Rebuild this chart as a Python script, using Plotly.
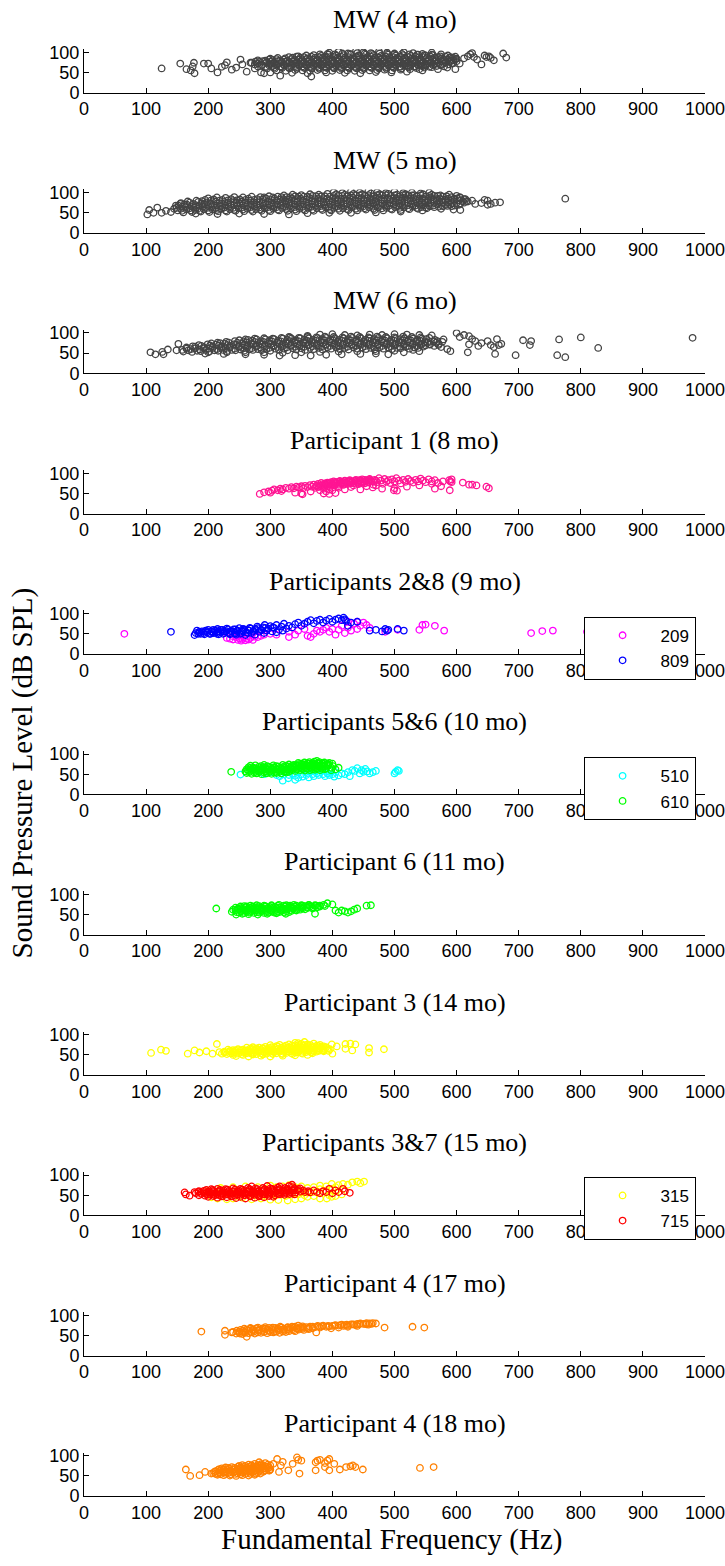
import plotly.graph_objects as go

# ---------------- data (Hz, dB SPL) ----------------
panel_titles = ["MW (4 mo)", "MW (5 mo)", "MW (6 mo)", "Participant 1 (8 mo)",
                "Participants 2&amp;8 (9 mo)", "Participants 5&amp;6 (10 mo)",
                "Participant 6 (11 mo)", "Participant 3 (14 mo)",
                "Participants 3&amp;7 (15 mo)", "Participant 4 (17 mo)",
                "Participant 4 (18 mo)"]
x_ticks = [0, 100, 200, 300, 400, 500, 600, 700, 800, 900, 1000]
y_ticks = [0, 50, 100]

mw4 = [(125,60),(155,72),(165,58),(172,55),(175,65),(177,74),(178,48),(193,72),(200,72),(205,60),
 (215,50),(222,64),(227,68),(230,75),(238,57),(245,62),(252,82),(255,70),(262,52),(268,74),(275,60),
 (285,50),(290,48),(316,42),(366,40),(598,58),(605,72),(612,85),(618,90),(622,95),(625,98),(628,88),
 (633,82),(640,70),(645,92),(648,88),(652,90),(655,86),(660,80),(675,97),(680,87),(590,88),(595,80),
 (395,99),(410,101),(425,97),(438,103),(450,100),(462,98),(475,102),(488,99),(500,97),(515,100),(530,98),(545,96),(560,99),(575,95),
 (345,90),(358,92),(370,93),(382,91),(394,94),(406,92),(418,93),(430,95),(442,92),(454,94),(466,93),(478,91),(490,94),(502,92),(514,93),(526,91),(538,94),(550,92),(562,93),(574,90),(586,92),(598,89),
 (300,84),(312,86),(324,85),(336,87),(348,86),(360,85),(372,87),(384,86),(396,88),(408,86),(420,87),(432,85),(444,88),(456,86),(468,87),(480,85),(492,88),(504,86),(516,87),(528,85),(540,88),(552,86),(564,87),(576,85),(588,86),(600,84),
 (280,80),(292,79),(304,81),(316,80),(328,79),(340,81),(352,80),(364,82),(376,80),(388,81),(400,79),(412,82),(424,80),(436,81),(448,79),(460,82),(472,80),(484,81),(496,79),(508,82),(520,80),(532,81),(544,80),(556,82),(568,80),(580,81),(592,79),
 (270,74),(282,76),(294,75),(306,74),(318,76),(330,75),(342,74),(354,76),(366,75),(378,74),(390,76),(402,75),(414,74),(426,76),(438,75),(450,74),(462,76),(474,75),(486,74),(498,76),(510,75),(522,74),(534,76),(546,75),(558,74),(570,76),(582,75),(594,73),
 (275,70),(287,69),(299,71),(311,70),(323,69),(335,71),(347,70),(359,69),(371,71),(383,70),(395,69),(407,71),(419,70),(431,69),(443,71),(455,70),(467,69),(479,71),(491,70),(503,69),(515,71),(527,70),(539,69),(551,71),(563,70),(575,68),(587,70),
 (280,65),(292,64),(304,66),(316,65),(328,64),(340,66),(352,65),(364,64),(376,66),(388,65),(400,64),(412,66),(424,65),(436,64),(448,66),(460,65),(472,64),(484,66),(496,65),(508,64),(520,66),(532,65),(544,66),(556,64),(568,66),(580,65),
 (295,60),(307,59),(319,61),(331,60),(343,59),(355,61),(367,60),(379,59),(391,61),(403,60),(415,59),(427,61),(439,60),(451,59),(463,61),(475,60),(487,59),(499,61),(511,60),(523,62),(535,61),(548,62),(560,63),
 (310,55),(325,54),(340,56),(352,55),(364,54),(376,56),(388,55),(400,54),(412,56),(424,55),(436,54),(448,56),(460,55),(472,56),(484,57),(496,55),(510,57),(525,58),(540,58),
 (300,50),(335,49),(360,48),(390,50),(420,49),(445,48),(470,51),(495,50),(520,52),(545,55),(570,58),(585,62)]
mw4_core = [(306,62),(318,63),(330,62),(342,63),(354,62),(366,63),(378,62),(390,63),(402,62),(414,63),(426,62),(438,63),(450,62),(462,63),(474,62),(486,63),(498,63),(510,64),(522,64),(534,65),(546,66),
 (286,67),(298,68),(310,67),(322,68),(334,67),(346,68),(358,67),(370,68),(382,67),(394,68),(406,67),(418,68),(430,67),(442,68),(454,67),(466,68),(478,67),(490,68),(502,67),(514,68),(526,67),(538,68),(550,67),(562,68),(574,69),
 (280,72),(292,73),(304,72),(316,73),(328,72),(340,73),(352,72),(364,73),(376,72),(388,73),(400,72),(412,73),(424,72),(436,73),(448,72),(460,73),(472,72),(484,73),(496,72),(508,73),(520,72),(532,73),(544,72),(556,73),(568,72),(580,73),(592,72),
 (276,77),(288,78),(300,77),(312,78),(324,77),(336,78),(348,77),(360,78),(372,77),(384,78),(396,77),(408,78),(420,77),(432,78),(444,77),(456,78),(468,77),(480,78),(492,77),(504,78),(516,77),(528,78),(540,77),(552,78),(564,77),(576,78),(588,77),(600,78),
 (298,82),(310,83),(322,82),(334,83),(346,82),(358,83),(370,82),(382,83),(394,82),(406,83),(418,82),(430,83),(442,82),(454,83),(466,82),(478,83),(490,82),(502,83),(514,82),(526,83),(538,82),(550,83),(562,82),(574,83),(586,82),(598,83),
 (330,88),(342,89),(354,88),(366,89),(378,88),(390,89),(402,88),(414,89),(426,88),(438,89),(450,88),(462,89),(474,88),(486,89),(498,88),(510,89),(522,88),(534,89),(546,88),(558,89),(570,88),(582,89),(594,87),
 (380,95),(392,96),(404,95),(416,97),(428,96),(440,98),(452,97),(464,96),(476,97),(488,96),(500,95),(512,96),(524,95),(536,94),(548,93),(560,94)]

mw5 = [(102,46),(105,57),(112,50),(118,63),(125,50),(132,55),(140,52),(145,60),(148,68),(155,72),
 (605,88),(612,84),(618,78),(625,80),(630,72),(640,74),(645,82),(650,80),(655,72),(662,75),(670,76),(650,70),(606,57),(775,85),
 (402,101),(416,99),(430,103),(444,100),(458,104),(472,101),(486,99),(500,102),(514,99),(528,100),(542,98),(556,100),
 (322,93),(336,95),(350,94),(364,96),(378,95),(392,97),(406,96),(420,95),(434,97),(448,96),(462,98),(476,96),(490,97),(504,95),(518,96),(532,94),(546,96),(560,95),(574,93),(588,95),(600,92),
 (200,86),(214,88),(228,87),(242,89),(256,88),(270,90),(284,89),(298,91),(312,90),(326,89),(340,91),(354,90),(368,92),(382,91),(396,90),(410,92),(424,91),(438,93),(452,92),(466,91),(480,93),(494,92),(508,90),(522,92),(536,91),(550,90),(564,92),(578,90),(592,89),(606,88),
 (167,78),(181,80),(195,82),(209,83),(223,82),(237,84),(251,83),(265,85),(279,84),(293,86),(307,85),(321,84),(335,86),(349,85),(363,87),(377,86),(391,85),(405,87),(419,86),(433,88),(447,87),(461,86),(475,88),(489,87),(503,86),(517,88),(531,87),(545,86),(559,88),(573,86),(587,85),(601,86),(614,84),
 (156,74),(170,75),(184,77),(198,76),(212,78),(226,77),(240,79),(254,78),(268,80),(282,79),(296,78),(310,80),(324,79),(338,81),(352,80),(366,79),(380,81),(394,80),(408,82),(422,81),(436,80),(450,82),(464,81),(478,83),(492,82),(506,81),(520,83),(534,82),(548,81),(562,83),(576,82),(590,80),(604,81),(616,79),
 (152,68),(166,70),(180,69),(194,71),(208,70),(222,72),(236,71),(250,73),(264,72),(278,71),(292,73),(306,72),(320,74),(334,73),(348,72),(362,74),(376,73),(390,75),(404,74),(418,73),(432,75),(446,74),(460,76),(474,75),(488,74),(502,76),(516,75),(530,77),(544,76),(558,75),(572,77),(586,76),(600,74),(612,75),
 (149,62),(163,64),(177,63),(191,65),(205,64),(219,66),(233,65),(247,67),(261,66),(275,65),(289,67),(303,66),(317,68),(331,67),(345,66),(359,68),(373,67),(387,69),(401,68),(415,67),(429,69),(443,68),(457,70),(471,69),(485,68),(499,70),(513,69),(527,71),(541,70),(555,69),(569,71),(583,70),(597,68),
 (151,56),(165,58),(179,57),(193,59),(207,58),(221,60),(235,59),(249,61),(263,60),(277,59),(291,61),(305,60),(319,62),(333,61),(347,60),(361,62),(375,61),(389,63),(403,62),(417,61),(431,63),(445,62),(459,64),(473,63),(487,62),(501,64),(515,63),(529,65),(543,64),(557,66),(571,65),(585,67),
 (160,51),(174,52),(188,53),(202,52),(216,54),(230,53),(244,55),(258,54),(272,53),(286,55),(300,54),(314,56),(328,55),(342,54),(356,56),(370,55),(384,57),(398,56),(412,55),(426,57),(440,56),(454,58),(468,57),(482,56),(496,58),(510,57),(524,59),(538,60),(552,61),
 (180,48),(215,47),(250,48),(290,47),(330,46),(360,49),(395,50),(430,50),(470,51),(510,53),(545,56),(575,60),(595,58)]
mw5_core = [(158,55),(172,56),(186,55),(200,56),(214,57),(228,56),(242,57),(256,58),(270,57),(284,58),(298,57),(312,58),(326,59),(340,58),(354,59),(368,58),(382,60),(396,59),(410,60),(424,59),(438,60),(452,61),(466,60),(480,61),(494,60),(508,62),(522,61),(536,62),(550,63),(564,64),(578,66),(592,66),
 (156,60),(170,61),(184,61),(198,62),(212,62),(226,63),(240,62),(254,63),(268,64),(282,63),(296,64),(310,64),(324,65),(338,64),(352,65),(366,65),(380,66),(394,65),(408,66),(422,66),(436,67),(450,66),(464,67),(478,67),(492,68),(506,67),(520,68),(534,68),(548,69),(562,68),(576,69),(590,70),(604,70),
 (158,65),(172,66),(186,67),(200,67),(214,68),(228,68),(242,69),(256,69),(270,70),(284,69),(298,70),(312,70),(326,71),(340,70),(354,71),(368,71),(382,72),(396,71),(410,72),(424,72),(438,73),(452,72),(466,73),(480,73),(494,74),(508,73),(522,74),(536,74),(550,75),(564,74),(578,75),(592,74),(606,73),
 (162,71),(176,72),(190,73),(204,73),(218,74),(232,75),(246,75),(260,76),(274,76),(288,77),(302,76),(316,77),(330,77),(344,78),(358,77),(372,78),(386,78),(400,79),(414,78),(428,79),(442,79),(456,80),(470,79),(484,80),(498,80),(512,81),(526,80),(540,81),(554,80),(568,80),(582,79),(596,79),(610,78),
 (190,79),(204,80),(218,80),(232,81),(246,81),(260,82),(274,82),(288,83),(302,82),(316,83),(330,83),(344,84),(358,83),(372,84),(386,84),(400,85),(414,84),(428,85),(442,85),(456,86),(470,85),(484,86),(498,85),(512,86),(526,85),(540,85),(554,84),(568,84),(582,83),(596,84),
 (290,88),(304,88),(318,89),(332,89),(346,90),(360,90),(374,91),(388,91),(402,92),(416,92),(430,93),(444,93),(458,94),(472,94),(486,94),(500,93),(514,94),(528,93),(542,93),(556,92),(570,92),(584,91)]

mw6 = [(107,52),(115,47),(126,53),(135,59),(152,73),(149,57),(128,47),
 (600,100),(605,90),(612,95),(620,92),(625,85),(630,80),(640,75),(650,80),(655,70),(665,85),(660,65),(668,70),(672,73),(618,52),(662,48),(620,72),(635,68),(585,60),(590,55),(575,65),
 (695,45),(707,82),(720,80),(718,70),(762,45),(765,84),(775,40),(800,89),(828,63),(980,88),
 (330,90),(360,93),(380,96),(400,97),(420,95),(440,94),(460,96),(480,95),(500,97),(520,96),(540,95),(560,94),
 (260,84),(275,86),(290,87),(304,86),(318,88),(332,89),(346,88),(360,90),(374,89),(388,91),(402,90),(416,89),(430,91),(444,90),(458,89),(472,91),(486,90),(500,89),(514,91),(528,90),(542,89),(556,88),
 (215,76),(229,78),(243,80),(257,79),(271,81),(285,80),(299,82),(313,81),(327,83),(341,82),(355,84),(369,83),(383,85),(397,84),(411,83),(425,85),(439,84),(453,83),(467,85),(481,84),(495,83),(509,85),(523,84),(537,83),(551,85),(565,83),(579,84),
 (185,70),(199,72),(213,71),(227,73),(241,72),(255,74),(269,73),(283,75),(297,74),(311,76),(325,75),(339,77),(353,76),(367,78),(381,77),(395,79),(409,78),(423,77),(437,79),(451,78),(465,77),(479,79),(493,78),(507,77),(521,79),(535,78),(549,77),(563,79),(577,78),
 (165,64),(179,66),(193,65),(207,67),(221,66),(235,68),(249,67),(263,69),(277,68),(291,70),(305,69),(319,71),(333,70),(347,72),(361,71),(375,73),(389,72),(403,74),(417,73),(431,72),(445,74),(459,73),(473,72),(487,74),(501,73),(515,72),(529,74),(543,73),(557,72),(571,73),
 (158,58),(172,60),(186,59),(200,61),(214,60),(228,62),(242,61),(256,63),(270,62),(284,64),(298,63),(312,65),(326,64),(340,66),(354,65),(368,67),(382,66),(396,68),(410,67),(424,66),(438,68),(452,67),(466,66),(480,68),(494,67),(508,66),(522,68),(536,67),(550,69),(564,68),
 (160,54),(174,53),(188,55),(202,54),(216,56),(230,55),(244,57),(258,56),(272,58),(286,57),(300,56),(314,58),(328,57),(342,59),(356,58),(370,60),(384,59),(398,61),(412,60),(426,59),(440,61),(454,60),(468,59),(482,61),(496,60),(510,62),(524,61),(538,63),
 (195,49),(225,48),(260,47),(290,46),(315,44),(340,45),(365,44),(390,46),(415,47),(445,48),(470,49),(490,47),(515,52),(540,55)]
mw6_core = [(168,57),(182,56),(196,58),(210,57),(224,58),(238,58),(252,59),(266,59),(280,60),(294,60),(308,61),(322,61),(336,62),(350,62),(364,63),(378,63),(392,64),(406,64),(420,63),(434,64),(448,64),(462,63),(476,64),(490,64),(504,63),(518,65),(532,64),(546,66),
 (165,61),(179,62),(193,62),(207,63),(221,63),(235,64),(249,65),(263,65),(277,66),(291,66),(305,67),(319,67),(333,68),(347,68),(361,69),(375,69),(389,70),(403,70),(417,70),(431,70),(445,71),(459,70),(473,70),(487,71),(501,70),(515,70),(529,71),(543,70),(557,71),(571,70),
 (175,67),(189,68),(203,69),(217,69),(231,70),(245,71),(259,71),(273,72),(287,72),(301,73),(315,73),(329,74),(343,74),(357,75),(371,75),(385,76),(399,76),(413,75),(427,76),(441,76),(455,75),(469,76),(483,76),(497,75),(511,76),(525,76),(539,75),(553,76),(567,76),
 (205,74),(219,75),(233,76),(247,76),(261,77),(275,78),(289,78),(303,79),(317,79),(331,80),(345,80),(359,81),(373,81),(387,82),(401,82),(415,81),(429,82),(443,81),(457,81),(471,82),(485,81),(499,81),(513,82),(527,81),(541,81),(555,80),(569,80),
 (250,82),(264,83),(278,84),(292,84),(306,85),(320,86),(334,86),(348,87),(362,87),(376,88),(390,88),(404,87),(418,87),(432,88),(446,87),(460,87),(474,88),(488,87),(502,87),(516,87),(530,86),(544,86),
 (200,52),(230,52),(260,52),(290,52),(320,51),(350,52),(380,53),(410,54),(440,55),(470,55),(500,56),(530,58)]

p1_8mo = [(283,49),(290,53),(297,55),(303,57),(306,60),(312,58),(316,62),(320,60),(325,64),(330,62),(334,66),(338,63),
 (342,67),(346,65),(350,68),(353,63),(356,69),(360,66),(364,71),(367,67),(370,72),(372,64),(375,70),(377,74),(380,68),
 (382,76),(384,71),(386,62),(388,75),(390,70),(392,77),(394,73),(396,66),(398,78),(400,74),(402,80),(404,71),(406,76),
 (408,79),(410,68),(412,81),(414,75),(416,78),(418,72),(420,82),(422,77),(424,74),(426,80),(428,83),(430,76),(432,79),
 (434,70),(436,81),(438,84),(440,77),(442,73),(444,82),(446,78),(448,85),(450,80),(452,75),(455,83),(458,77),(460,86),
 (463,80),(466,72),(468,84),(472,78),(475,88),(478,82),(481,74),(484,86),(487,79),(490,83),(493,76),(496,85),(500,80),
 (503,88),(507,82),(510,75),(514,84),(518,79),(522,86),(526,81),(530,77),(534,84),(538,80),(542,87),(546,82),(550,78),
 (555,85),(560,80),(565,83),(570,76),(578,80),(588,83),(590,80),(592,78),(589,58),(592,85),(610,77),(620,72),(625,72),
 (632,70),(648,67),(652,63),(340,52),(350,50),(352,48),(365,55),(390,55),(400,58),(420,60),(445,60),(465,65),(480,62),
 (500,63),(520,67),(540,70),(560,74),(575,68),(300,52),(318,56),(380,58),(410,64),(395,60),(430,66),(455,68),(470,70),
 (386,50),(395,49),(405,51),(499,58),(504,57),(565,62),
 (374,68),(382,70),(390,72),(398,72),(406,74),(414,76),(422,76),(430,78),(438,79),(446,80),(454,80),(462,82),(470,82),
 (378,66),(386,67),(394,68),(402,70),(410,72),(418,72),(426,74),(434,75),(442,76),(450,77),(458,78),(466,79),
 (388,73),(396,76),(404,78),(412,79),(420,80),(428,81),(436,82),(444,83),(452,84),(460,84)]

p209 = [(65,50),(230,40),(235,38),(240,36),(245,42),(248,35),(250,39),(253,33),(255,37),(258,41),(260,34),(262,38),
 (265,36),(268,40),(272,35),(275,43),(250,45),(240,44),(280,42),(285,45),(290,48),(300,50),(310,48),(330,42),(330,55),
 (340,48),(345,58),(355,62),(360,45),(365,42),(370,50),(375,58),(380,55),(385,60),(390,65),(395,55),(400,62),(405,48),
 (410,60),(415,70),(420,52),(425,65),(425,80),(430,58),(435,75),(440,62),(440,80),(445,70),(450,78),(455,72),(460,65),
 (485,55),(505,60),(540,60),(545,72),(550,73),(565,70),(580,58),(720,52),(738,57),(755,58),(810,55)]

p809 = [(140,55),(178,47),(180,52),(182,58),(185,54),(188,50),(190,56),(193,52),(196,58),(199,54),(202,50),(205,56),
 (208,52),(211,58),(214,54),(217,49),(220,55),(223,60),(226,52),(229,57),(232,53),(235,49),(238,56),(241,61),(244,53),
 (247,58),(250,64),(252,50),(255,56),(258,61),(261,54),(264,59),(267,65),(270,52),(273,57),(276,62),(279,68),(282,55),
 (285,60),(288,66),(291,72),(294,58),(297,63),(300,69),(303,56),(306,65),(310,72),(314,60),(318,68),(322,75),(326,63),
 (330,70),(335,66),(340,74),(345,78),(350,70),(355,75),(360,80),(365,84),(370,76),(375,82),(380,85),(385,78),(390,83),
 (395,87),(400,80),(405,85),(410,88),(415,84),(418,90),(420,86),(422,82),(425,70),(430,78),(440,80),(460,58),(470,60),
 (480,56),(485,62),(488,58),(490,60),(505,62),(515,58),(215,62),(230,63),(245,48),(260,47),(200,60),(275,48),(290,52),
 (320,58),(310,54),
 (184,50),(194,49),(204,50),(214,50),(224,50),(234,51),(244,51),(254,52),(264,52),
 (186,55),(196,55),(206,55),(216,56),(226,56),(236,57),(246,57),(256,58),(266,58),(276,59),(286,59),
 (208,60),(220,60),(232,61),(244,61),(256,62),(268,63),(280,64),(292,65),(304,66)]

p510 = [(252,49),(320,34),(340,36),(345,41),(329,40),(330,48),(335,52),(340,46),(345,55),(350,50),(352,44),(355,58),
 (358,48),(360,53),(362,42),(365,56),(368,50),(370,45),(372,58),(375,52),(378,48),(380,55),(382,60),(385,50),(388,45),
 (390,56),(392,52),(395,48),(398,58),(400,50),(403,44),(405,55),(410,47),(415,52),(420,50),(425,55),(428,45),(432,60),
 (436,58),(440,65),(444,52),(447,60),(450,56),(453,63),(456,57),(460,52),(465,55),(470,58),(500,52),(502,56),(505,60),
 (507,58),(310,48),(300,55),(290,50),(315,45),(325,55)]

p610 = [(237,56),(398,60),(405,62),(410,66),(400,76),
 (262,53),(270,51),(278,52),(286,50),(294,52),(302,51),(310,53),(318,52),(326,54),
 (260,57),(268,58),(276,56),(284,58),(292,57),(300,58),(308,56),(316,58),(324,57),(332,59),(340,58),(348,60),(356,59),(364,60),(372,61),(380,60),(388,62),
 (262,62),(270,63),(278,61),(286,63),(294,62),(302,63),(310,62),(318,64),(326,63),(334,64),(342,63),(350,65),(358,64),(366,66),(374,65),(382,66),(390,65),(398,66),
 (265,67),(273,66),(281,68),(289,67),(297,68),(305,67),(313,69),(321,68),(329,69),(337,68),(345,70),(353,69),(361,71),(369,70),(377,71),(385,70),(393,72),(401,70),
 (268,71),(276,72),(290,73),(305,72),(320,73),(330,74),(338,73),(346,75),(354,74),(362,76),(370,75),(378,76),(386,75),(394,74),
 (345,78),(355,79),(363,80),(371,81),(379,80),(387,79),(395,78),(375,83),
 (266,55),(274,54),(282,55),(290,54),(298,55),(306,54),(314,55),(322,56),(330,56),
 (264,60),(272,60),(280,60),(288,60),(296,61),(304,60),(312,61),(320,61),(328,62),(336,61),(344,62),(352,62),(360,63),(368,62),(376,63),(384,63),
 (268,65),(276,64),(284,65),(292,65),(300,66),(308,65),(316,66),(324,66),(332,67),(340,66),(348,67),(356,67),(364,68),(372,68),(380,68),(388,69),
 (285,70),(295,70),(310,70),(325,71),(335,71),(342,72),(350,72),(358,73),(366,73),(374,73),(382,73),(390,73),
 (350,76),(360,77),(368,78),(376,78),(384,77),(392,76)]

p6_11mo = [(213,65),(380,72),(392,78),(400,75),(405,60),(410,55),(415,60),(420,58),(425,55),(430,58),(435,62),(440,65),
 (455,72),(462,73),(372,52),
 (245,50),(255,52),(265,51),(280,50),(295,52),(310,53),(325,52),
 (238,57),(246,56),(254,58),(262,57),(270,58),(278,56),(286,58),(294,57),(302,58),(310,57),(318,59),(326,58),(334,59),(342,60),
 (240,62),(248,63),(256,61),(264,63),(272,62),(280,63),(288,62),(296,64),(304,63),(312,64),(320,63),(328,64),(336,65),(344,64),(352,65),(360,66),(368,65),
 (244,67),(252,66),(260,68),(268,67),(276,68),(284,67),(292,69),(300,68),(308,69),(316,68),(324,70),(332,69),(340,70),(348,69),(356,71),(364,70),(372,71),(380,70),(388,71),
 (258,71),(268,72),(278,73),(290,72),(302,73),(314,74),(326,73),(338,74),(350,73),(362,74),(374,72),(386,74),
 (250,55),(258,54),(266,55),(274,54),(282,55),(290,54),(298,55),(306,55),(314,56),(322,55),(330,56),
 (244,60),(252,59),(260,60),(268,59),(276,60),(284,60),(292,61),(300,60),(308,61),(316,61),(324,62),(332,61),(340,62),(348,62),(356,63),
 (248,65),(256,64),(264,65),(272,65),(280,66),(288,65),(296,66),(304,66),(312,67),(320,66),(328,67),(336,67),(344,67),(352,68),(360,68),(368,68),(376,68),
 (252,70),(262,70),(272,70),(282,71),(292,71),(302,71),(312,72),(322,72),(332,72),(342,72),(352,72),(362,73),(372,73)]

p3_14mo = [(108,55),(124,63),(132,60),(167,53),(178,61),(186,56),(197,59),(207,53),(214,77),
 (399,76),(407,71),(421,77),(429,78),(437,76),(432,61),(459,67),(459,56),(483,64),(400,53),(421,65),
 (245,47),(265,46),(285,48),(300,46),(320,48),(340,49),(360,50),
 (222,53),(230,52),(238,54),(246,53),(254,52),(262,54),(270,53),(278,52),(286,54),(294,53),(302,55),(310,54),(318,53),(326,55),(334,54),(342,56),(350,55),(358,57),(366,56),(374,58),
 (218,57),(226,58),(234,59),(242,58),(250,57),(258,59),(266,58),(274,60),(282,59),(290,58),(298,60),(306,59),(314,61),(322,60),(330,59),(338,61),(346,60),(354,62),(362,61),(370,60),(378,62),(386,61),(394,60),
 (232,63),(240,62),(248,64),(256,63),(264,62),(272,64),(280,63),(288,65),(296,64),(304,63),(312,65),(320,64),(328,66),(336,65),(344,64),(352,66),(360,65),(368,67),(376,66),(384,65),(392,66),
 (262,68),(272,69),(282,68),(292,70),(302,69),(312,71),(322,70),(330,69),(338,71),(346,70),(354,72),(362,71),(370,70),(378,72),(386,71),
 (300,74),(315,75),(330,76),(340,74),(350,77),(360,76),(370,78),(380,75),(340,80),(355,82),(345,79),
 (240,50),(256,50),(272,51),(288,51),(304,52),(320,52),(336,52),(352,53),(368,54),
 (226,56),(234,55),(242,56),(250,55),(258,56),(266,56),(274,56),(282,57),(290,56),(298,57),(306,57),(314,58),(322,57),(330,58),(338,58),(346,58),(354,59),(362,59),(370,59),(378,60),(386,59),
 (236,60),(244,61),(252,61),(260,61),(268,62),(276,61),(284,62),(292,62),(300,62),(308,63),(316,62),(324,63),(332,63),(340,63),(348,64),(356,63),(364,64),(372,64),(380,64),(388,64),(396,64),
 (268,66),(278,66),(288,67),(298,67),(308,68),(318,68),(326,68),(334,68),(342,69),(350,69),(358,69),(366,69),(374,69),(382,69),(390,69),
 (310,72),(325,73),(335,73),(345,74),(355,74),(365,74),(375,73)]

p315 = [(205,45),(215,42),(230,40),(240,42),(255,44),(270,40),(285,42),(300,39),(313,38),(328,37),(340,40),(350,42),
 (360,46),(370,48),(380,42),(391,42),(399,46),(395,50),(405,48),(415,52),(200,60),(220,68),(240,70),(260,72),(280,70),
 (300,74),(310,70),(320,72),(330,75),(340,70),(350,72),(360,68),(370,70),(380,74),(390,72),(399,78),(410,75),(417,78),
 (425,76),(432,82),(440,84),(451,84),(445,80),(350,60),(360,56),(370,58),(380,65),(390,62),(400,66),(405,70),(345,52),
 (355,50),(325,48),(310,50),(290,48),(270,50),(250,48)]

p715 = [(164,52),(162,57),(170,49),(178,58),(395,66),(405,62),(417,66),(428,56),(410,58),(400,55),(380,55),(390,58),
 (370,62),(420,60),
 (200,46),(215,44),(230,45),(245,43),(260,42),(275,44),(290,45),(305,46),
 (185,50),(195,49),(203,51),(211,50),(219,49),(227,51),(235,50),(243,49),(251,51),(259,50),(267,49),(275,51),(283,50),(291,52),(299,51),(307,50),(315,52),(323,51),(331,53),(339,52),
 (180,55),(188,56),(196,54),(204,56),(212,55),(220,54),(228,56),(236,55),(244,54),(252,56),(260,55),(268,57),(276,56),(284,55),(292,57),(300,56),(308,58),(316,57),(324,56),(332,58),(340,57),(348,59),(356,58),(364,57),
 (185,60),(193,61),(201,59),(209,61),(217,60),(225,62),(233,61),(241,60),(249,62),(257,61),(265,63),(273,62),(281,61),(289,63),(297,62),(305,64),(313,63),(321,62),(329,64),(337,63),(345,65),(353,62),(361,60),(375,58),(385,60),
 (205,65),(215,66),(228,65),(240,67),(252,66),(264,68),(276,67),(288,68),(300,67),(312,69),(324,68),(336,70),(348,67),
 (270,72),(295,73),(315,72),(335,76),(330,73),
 (208,48),(222,47),(238,47),(252,46),(268,47),(282,47),(298,48),
 (189,53),(199,52),(207,53),(215,52),(223,53),(231,52),(239,53),(247,52),(255,53),(263,52),(271,53),(279,52),(287,53),(295,54),(303,53),(311,54),(319,54),(327,55),(335,55),
 (184,58),(192,58),(200,57),(208,58),(216,58),(224,58),(232,58),(240,58),(248,59),(256,58),(264,59),(272,59),(280,59),(288,60),(296,60),(304,60),(312,61),(320,60),(328,61),(336,61),(344,62),
 (197,63),(207,63),(219,63),(231,64),(243,64),(255,64),(267,65),(279,65),(291,65),(303,66),(315,66),(327,66),(339,67)]

p4_17mo = [(189,60),(227,62),(227,52),(238,58),(251,55),(262,47),(374,58),(484,70),(529,72),(548,70),(345,75),(335,72),
 (245,55),(255,54),(265,56),(275,55),(285,57),(295,56),(305,58),(315,57),(325,59),
 (240,59),(250,60),(258,59),(266,61),(274,60),(282,62),(290,61),(298,62),(306,61),(314,63),(322,62),(330,64),(338,63),(346,65),(354,64),(362,66),
 (252,64),(262,65),(272,66),(282,65),(292,67),(302,66),(312,68),(322,67),(332,69),(342,68),(352,70),(362,69),(372,71),
 (268,69),(280,70),(292,71),(304,70),(316,72),(328,71),(340,72),(352,73),(364,72),(376,74),
 (380,70),(385,75),(390,72),(395,73),(400,74),(405,76),(410,75),(415,77),(420,76),(425,75),(430,78),(435,77),(440,79),
 (445,80),(450,79),(455,81),(460,80),(465,81),(470,80),(425,72),(440,74),(455,78),(410,70),(398,68),
 (250,57),(260,57),(270,58),(280,58),(290,59),(300,59),(310,60),(320,60),(330,61),(340,61),
 (246,62),(256,62),(264,63),(272,63),(280,63),(288,64),(296,64),(304,64),(312,65),(320,65),(328,66),(336,66),(344,67),(352,67),(360,68),(368,68),
 (258,67),(268,67),(278,68),(288,68),(298,69),(308,69),(318,70),(328,70),(338,70),(348,71),(358,71),(368,72),(378,73),
 (383,73),(393,74),(403,75),(413,76),(423,77),(433,78),(443,78),(453,79),(463,79),(418,74),(438,76),(458,77)]

p4_18mo = [(164,66),(171,50),(186,52),(195,60),(205,56),(311,92),(343,96),(350,88),(347,56),(373,64),(376,88),(388,82),
 (395,92),(395,64),(412,66),(422,72),(429,74),(433,76),(437,72),(449,66),(541,70),(563,72),(329,64),(336,80),(317,76),
 (314,60),(299,64),(373,84),(403,80),(388,72),(380,90),(392,88),(345,90),(320,85),(305,80),
 (215,53),(225,52),(235,51),(245,50),(255,52),(265,51),(275,53),
 (208,57),(216,56),(224,58),(232,57),(240,58),(248,56),(256,58),(264,57),(272,59),(280,58),(288,60),
 (212,62),(220,63),(228,61),(236,63),(244,62),(252,64),(260,63),(268,64),(276,63),(284,65),(292,64),(300,66),
 (218,67),(226,66),(234,68),(242,67),(250,69),(258,68),(266,69),(274,68),(282,70),(290,69),(298,71),
 (228,71),(238,72),(248,73),(258,72),(268,74),(276,73),(284,75),(292,74),(300,76),
 (255,77),(265,78),(275,80),(285,79),(292,82),(282,84),(270,76),
 (212,55),(220,54),(228,55),(236,54),(244,55),(252,54),(260,55),(268,55),(276,56),(284,56),
 (210,60),(218,59),(226,60),(234,60),(242,60),(250,61),(258,61),(266,61),(274,62),(282,62),(290,62),(298,63),
 (216,65),(224,64),(232,65),(240,65),(248,66),(256,66),(264,66),(272,67),(280,67),(288,67),(296,68),
 (222,69),(232,70),(242,70),(252,71),(262,71),(272,72),(280,72),(288,72),(296,73),
 (250,75),(260,75),(270,76),(280,77),(288,77),(296,78)]

GRAY = "#444444"
PINK = "#ff1493"
MAGENTA = "#ff00ff"
BLUE = "#0000ff"
CYAN = "#00ffff"
GREEN = "#00ff00"
YELLOW = "#ffff00"
RED = "#ff0000"
ORANGE = "#ff8000"

# panel index -> list of (points, color, legend name or None, legend id)
panels = [
    [(mw4 + mw4_core, GRAY, None, None)],
    [(mw5 + mw5_core, GRAY, None, None)],
    [(mw6 + mw6_core, GRAY, None, None)],
    [(p1_8mo, PINK, None, None)],
    [(p209, MAGENTA, "209", "legend"), (p809, BLUE, "809", "legend")],
    [(p510, CYAN, "510", "legend2"), (p610, GREEN, "610", "legend2")],
    [(p6_11mo, GREEN, None, None)],
    [(p3_14mo, YELLOW, None, None)],
    [(p315, YELLOW, "315", "legend3"), (p715, RED, "715", "legend3")],
    [(p4_17mo, ORANGE, None, None)],
    [(p4_18mo, ORANGE, None, None)],
]

W, H = 725, 1566
ML, MR = 84, 17
PW = W - ML - MR
STEP = 141.8
BOT0 = 87.5
PH = 44.0

def fy(px):
    return 1 - px / H

def fx(px):
    return (px - ML) / PW

fig = go.Figure()
layout = dict(
    width=W, height=H,
    margin=dict(l=ML, r=MR, t=0, b=0),
    paper_bgcolor="white", plot_bgcolor="white",
    font=dict(family="Liberation Sans", color="black"),
    annotations=[],
)

tick_font = dict(family="Liberation Sans", size=18, color="black")
for i, series in enumerate(panels):
    n = i + 1
    xa = "x" if n == 1 else f"x{n}"
    ya = "y" if n == 1 else f"y{n}"
    bot = BOT0 + i * STEP
    top = bot - PH
    layout["xaxis" if n == 1 else f"xaxis{n}"] = dict(
        domain=[0, 1], anchor=ya, range=[0, 1000], tickvals=x_ticks,
        ticks="inside", ticklen=5, tickcolor="black", showline=True,
        linecolor="black", linewidth=1, showgrid=False, zeroline=False,
        tickfont=tick_font, ticklabeloverflow="allow", fixedrange=True)
    layout["yaxis" if n == 1 else f"yaxis{n}"] = dict(
        domain=[fy(bot), fy(top)], anchor=xa, range=[0, 108], tickvals=y_ticks,
        ticks="inside", ticklen=5, tickcolor="black", showline=True,
        linecolor="black", linewidth=1, showgrid=False, zeroline=False,
        tickfont=tick_font, ticklabeloverflow="allow", fixedrange=True)
    layout["annotations"].append(dict(
        text=panel_titles[i], xref="paper", yref="paper", x=0.5, y=fy(14 + i * STEP),
        xanchor="center", yanchor="middle", showarrow=False,
        font=dict(family="Liberation Serif", size=26, color="black")))
    for pts, col, name, leg in series:
        xs = [p[0] for p in pts]
        ys = [p[1] for p in pts]
        tr = go.Scatter(x=xs, y=ys, mode="markers", xaxis=xa, yaxis=ya,
                        marker=dict(symbol="circle-open", size=6.5, color=col,
                                    line=dict(width=1.3, color=col)),
                        showlegend=name is not None, name=name or "")
        if leg is not None:
            tr.legend = leg
        fig.add_trace(tr)

leg_common = dict(xanchor="left", yanchor="top", bgcolor="white",
                  bordercolor="black", borderwidth=1,
                  font=dict(family="Liberation Sans", size=17, color="black"),
                  itemwidth=66, tracegroupgap=0)
layout["legend"] = dict(x=fx(586), y=fy(617), **leg_common)
layout["legend2"] = dict(x=fx(586), y=fy(759), **leg_common)
layout["legend3"] = dict(x=fx(586), y=fy(1183), **leg_common)

layout["annotations"].append(dict(
    text="Fundamental Frequency (Hz)", xref="paper", yref="paper", x=fx(393), y=fy(1549),
    xanchor="center", yanchor="middle", showarrow=False,
    font=dict(family="Liberation Serif", size=29, color="black")))
layout["annotations"].append(dict(
    text="Sound Pressure Level (dB SPL)", xref="paper", yref="paper", x=fx(22), y=fy(775),
    xanchor="center", yanchor="middle", showarrow=False, textangle=-90,
    font=dict(family="Liberation Serif", size=29, color="black")))

fig.update_layout(**layout)
fig.write_html("out.html")
